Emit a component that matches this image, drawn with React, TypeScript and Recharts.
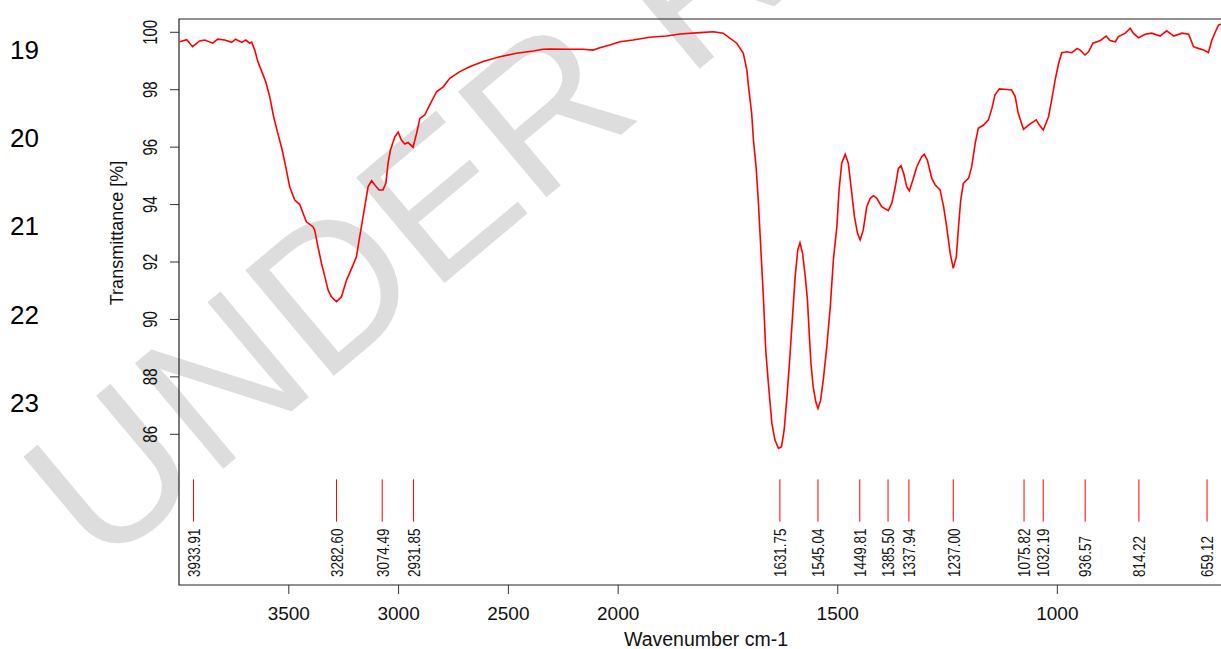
import React from 'react';
import {
  ComposedChart,
  Line,
  Scatter,
  XAxis,
  YAxis,
  ReferenceLine,
  ReferenceArea,
} from 'recharts';

// [wavenumber cm-1, transmittance %]
const spectrumPoints: [number, number][] = [
  [3997, 99.67], [3965, 99.74], [3938, 99.5], [3906, 99.7], [3883, 99.73], [3846, 99.62],
  [3824, 99.76], [3792, 99.73], [3760, 99.65], [3742, 99.76], [3714, 99.65], [3696, 99.73],
  [3678, 99.62], [3669, 99.66], [3655, 99.38], [3641, 98.98], [3623, 98.63], [3605, 98.28],
  [3587, 97.76], [3569, 97.06], [3550, 96.48], [3532, 95.96], [3514, 95.32], [3496, 94.62],
  [3473, 94.16], [3450, 94.0], [3435, 93.7], [3420, 93.4], [3390, 93.23], [3382, 93.11],
  [3367, 92.53], [3351, 91.95], [3336, 91.49], [3321, 91.03], [3306, 90.79], [3283, 90.62],
  [3260, 90.79], [3237, 91.37], [3207, 91.9], [3192, 92.18], [3177, 92.88], [3154, 93.93],
  [3139, 94.62], [3123, 94.83], [3108, 94.68], [3089, 94.51], [3071, 94.51], [3058, 94.74],
  [3048, 95.44], [3037, 95.9], [3017, 96.36], [3002, 96.52], [2987, 96.25], [2972, 96.11],
  [2957, 96.16], [2934, 96.0], [2918, 96.48], [2903, 97.0], [2881, 97.12], [2858, 97.47],
  [2827, 97.93], [2797, 98.1], [2767, 98.4], [2721, 98.63], [2676, 98.8], [2615, 98.98],
  [2539, 99.15], [2463, 99.27], [2387, 99.35], [2342, 99.41], [2311, 99.42], [2235, 99.41],
  [2159, 99.41], [2114, 99.38], [2083, 99.46], [2038, 99.56], [1996, 99.67], [1966, 99.73],
  [1928, 99.83], [1890, 99.87], [1859, 99.94], [1814, 99.99], [1783, 100.02], [1761, 99.97],
  [1745, 99.79], [1730, 99.62], [1715, 99.27], [1707, 98.69], [1704, 98.22], [1696, 97.18],
  [1692, 96.25], [1686, 95.32], [1681, 94.16], [1677, 93.0], [1673, 91.84], [1669, 90.68],
  [1664, 88.94], [1658, 87.78], [1650, 86.38], [1643, 85.8], [1635, 85.51], [1628, 85.57],
  [1622, 86.15], [1615, 87.43], [1609, 88.7], [1603, 90.1], [1597, 91.49], [1591, 92.42],
  [1586, 92.67], [1580, 92.3], [1574, 91.49], [1569, 90.68], [1565, 89.52], [1561, 88.47],
  [1556, 87.66], [1550, 87.13], [1545, 86.9], [1539, 87.19], [1533, 87.89], [1525, 89.05],
  [1517, 90.44], [1510, 92.07], [1502, 93.23], [1497, 94.51], [1491, 95.44], [1483, 95.75],
  [1476, 95.44], [1468, 94.39], [1462, 93.58], [1455, 93.0], [1449, 92.77], [1442, 93.11],
  [1434, 93.93], [1426, 94.22], [1419, 94.31], [1411, 94.22], [1400, 93.93], [1385, 93.79],
  [1377, 94.04], [1369, 94.62], [1362, 95.26], [1356, 95.35], [1350, 95.09], [1343, 94.62],
  [1337, 94.48], [1329, 94.86], [1320, 95.32], [1309, 95.67], [1303, 95.75], [1296, 95.55],
  [1286, 94.92], [1278, 94.68], [1267, 94.51], [1259, 93.93], [1252, 93.23], [1244, 92.3],
  [1237, 91.78], [1230, 92.18], [1225, 93.23], [1220, 94.16], [1214, 94.74], [1202, 94.92],
  [1195, 95.32], [1187, 96.13], [1180, 96.66], [1168, 96.77], [1157, 96.95], [1149, 97.35],
  [1142, 97.82], [1132, 98.03], [1115, 98.01], [1104, 97.99], [1096, 97.76], [1089, 97.18],
  [1077, 96.62], [1066, 96.77], [1048, 96.95], [1041, 96.77], [1032, 96.6], [1020, 97.06],
  [1013, 97.64], [1005, 98.34], [997, 98.92], [990, 99.29], [978, 99.32], [967, 99.29],
  [955, 99.44], [948, 99.38], [937, 99.21], [929, 99.32], [919, 99.62], [902, 99.71],
  [889, 99.87], [880, 99.71], [868, 99.67], [861, 99.85], [845, 99.97], [834, 100.14],
  [827, 99.97], [815, 99.81], [800, 99.93], [785, 99.97], [766, 99.87], [751, 100.05],
  [735, 99.87], [716, 99.97], [701, 99.93], [690, 99.5], [679, 99.44], [667, 99.38],
  [656, 99.29], [648, 99.73], [640, 100.02], [633, 100.25], [627, 100.29], [615, 100.32],
  [600, 100.3],
];

const peakPositions = [
  3933.91, 3282.6, 3074.49, 2931.85, 1631.75, 1545.04, 1449.81, 1385.5, 1337.94, 1237.0,
  1075.82, 1032.19, 936.57, 814.22, 659.12,
];
const peakLabels = [
  '3933.91', '3282.60', '3074.49', '2931.85', '1631.75', '1545.04', '1449.81', '1385.50',
  '1337.94', '1237.00', '1075.82', '1032.19', '936.57', '814.22', '659.12',
];

const xTickValues = [3500, 3000, 2500, 2000, 1500, 1000];
const yTickValues = [86, 88, 90, 92, 94, 96, 98, 100];
const lineNumbers = ['19', '20', '21', '22', '23'];

// layout constants (in transmittance units) for the peak marker strip
const PEAK_LINE_TOP = 84.43;
const PEAK_LINE_BOTTOM = 82.96;
const PEAK_LABEL_BASE = 81.03;
const X_MIN = 600;
const X_MAX = 4000;
const Y_MIN = 80.752;
const Y_MAX = 100.463;

// Instrument axis: the region above 2000 cm-1 is compressed 2:1
const toAxis = (w: number) => (w > 2000 ? 2000 + (w - 2000) / 2 : w);
const fromAxis = (u: number) => (u > 2000 ? 2000 + (u - 2000) * 2 : u);

const spectrum = spectrumPoints.map(([w, t]) => ({ u: toAxis(w), T: t }));
const peakData = peakPositions.map((w, i) => ({ u: toAxis(w), T: PEAK_LABEL_BASE, label: peakLabels[i] }));

const FONT = '"Liberation Sans", Arial, Helvetica, sans-serif';

const PeakLabel = (props: any) => {
  const { cx, cy, payload } = props;
  if (cx == null || cy == null) return null;
  return (
    <g transform={`translate(${cx},${cy}) rotate(-90) scale(1,1.3)`}>
      <text x={0} y={0} dy="0.36em" fontSize={13.4} fontFamily={FONT} fill="#111" textAnchor="start">
        {payload.label}
      </text>
    </g>
  );
};

const YTick = (props: any) => {
  const { x, y, payload } = props;
  return (
    <g transform={`translate(${x},${y}) rotate(-90) scale(1,1.3)`}>
      <text x={0} y={0} fontSize={15} fontFamily={FONT} fill="#111" textAnchor="middle">
        {payload.value}
      </text>
    </g>
  );
};

const YTitle = (props: any) => {
  const { viewBox } = props;
  const x = viewBox.x + 123;
  const y = 233;
  return (
    <text x={x} y={y} transform={`rotate(-90 ${x} ${y})`} fontSize={18} fontFamily={FONT} fill="#111" textAnchor="middle">
      Transmittance [%]
    </text>
  );
};

export default function App() {
  return (
    <div style={{ position: 'absolute', left: 0, top: 0, width: 1221, height: 649, overflow: 'hidden', background: '#fff' }}>
      <svg width={1221} height={649} style={{ position: 'absolute', left: 0, top: 0 }}>
        <text
          x={100}
          y={572}
          transform="rotate(-40 100 572)"
          fontSize={200}
          fontFamily={FONT}
          fill="#dddddd"
        >
          UNDER REVIEW
        </text>
        {lineNumbers.map((n, i) => (
          <text key={n} x={10} y={59 + i * 88.2} fontSize={26} fontFamily={FONT} fill="#000">
            {n}
          </text>
        ))}
      </svg>
      <div style={{ position: 'absolute', left: 0, top: 0 }}>
        <ComposedChart width={1240} height={649} margin={{ top: 19, right: 7, bottom: 0, left: 0 }}>
          <XAxis
            dataKey="u"
            type="number"
            domain={[toAxis(X_MIN), toAxis(X_MAX)]}
            reversed
            allowDataOverflow
            ticks={xTickValues.map(toAxis)}
            tickFormatter={(v: number) => String(Math.round(fromAxis(v)))}
            height={64}
            axisLine={false}
            tickSize={9}
            tickMargin={13}
            tickLine={{ stroke: '#333' }}
            tick={{ fontSize: 19, fontFamily: FONT, fill: '#111' }}
            label={{ value: 'Wavenumber cm-1', position: 'insideBottom', offset: 3, fontSize: 19.5, fontFamily: FONT, fill: '#111' }}
          />
          <YAxis
            dataKey="T"
            type="number"
            domain={[Y_MIN, Y_MAX]}
            allowDataOverflow
            ticks={yTickValues}
            width={179}
            axisLine={false}
            tickSize={9}
            tickMargin={13}
            tickLine={{ stroke: '#333' }}
            tick={<YTick />}
            label={<YTitle />}
          />
          <ReferenceArea
            x1={toAxis(X_MIN)}
            x2={toAxis(X_MAX)}
            y1={Y_MIN}
            y2={Y_MAX}
            fill="none"
            fillOpacity={0}
            stroke="#222"
            strokeWidth={1.2}
          />
          {peakData.map((p) => (
            <ReferenceLine
              key={p.label}
              segment={[{ x: p.u, y: PEAK_LINE_TOP }, { x: p.u, y: PEAK_LINE_BOTTOM }]}
              stroke="#ff0000"
              strokeWidth={1}
            />
          ))}
          <Line
            data={spectrum}
            dataKey="T"
            type="linear"
            stroke="#ff0000"
            strokeWidth={1.6}
            dot={false}
            isAnimationActive={false}
          />
          <Scatter data={peakData} dataKey="T" shape={<PeakLabel />} isAnimationActive={false} />
        </ComposedChart>
      </div>
    </div>
  );
}
